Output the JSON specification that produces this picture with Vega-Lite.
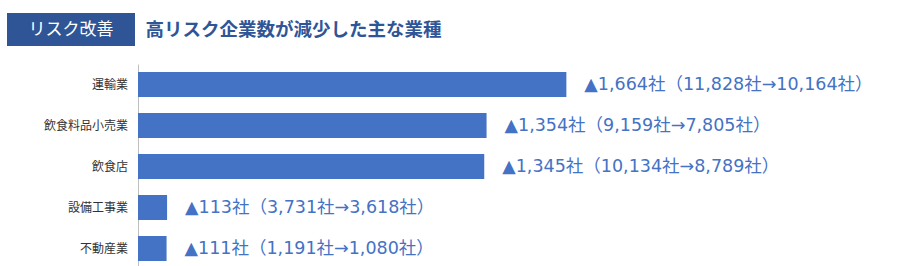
{
  "$schema": "https://vega.github.io/schema/vega-lite/v6.json",
  "padding": {"left": 7, "top": 13, "right": 0, "bottom": 0},
  "background": "white",
  "spacing": 18,
  "config": {"view": {"stroke": null}, "font": "Noto Sans CJK JP"},
  "datasets": {
    "industries": [
      {"industry": "運輸業", "decrease": 1664, "before": 11828, "after": 10164, "label": "▲1,664社（11,828社→10,164社）"},
      {"industry": "飲食料品小売業", "decrease": 1354, "before": 9159, "after": 7805, "label": "▲1,354社（9,159社→7,805社）"},
      {"industry": "飲食店", "decrease": 1345, "before": 10134, "after": 8789, "label": "▲1,345社（10,134社→8,789社）"},
      {"industry": "設備工事業", "decrease": 113, "before": 3731, "after": 3618, "label": "▲113社（3,731社→3,618社）"},
      {"industry": "不動産業", "decrease": 111, "before": 1191, "after": 1080, "label": "▲111社（1,191社→1,080社）"}
    ]
  },
  "vconcat": [
    {
      "spacing": 10,
      "hconcat": [
        {
          "width": 128,
          "height": 33,
          "view": {"fill": "#2F5597", "stroke": null},
          "data": {"values": [{"t": "リスク改善"}]},
          "mark": {"type": "text", "align": "center", "baseline": "middle", "fontSize": 17, "color": "#FFFFFF", "font": "Noto Sans CJK JP"},
          "encoding": {"text": {"field": "t"}}
        },
        {
          "width": 1,
          "height": 33,
          "data": {"values": [{"t": "高リスク企業数が減少した主な業種"}]},
          "mark": {"type": "text", "align": "left", "baseline": "middle", "fontSize": 18.5, "fontWeight": "bold", "color": "#2F5597", "font": "Noto Sans CJK JP"},
          "encoding": {"text": {"field": "t"}}
        }
      ]
    },
    {
      "spacing": 10,
      "hconcat": [
        {
          "width": 121,
          "height": 205,
          "data": {"name": "industries"},
          "mark": {"type": "text", "align": "right", "baseline": "middle", "fontSize": 12, "color": "#333333", "font": "Noto Sans CJK JP"},
          "encoding": {
            "y": {
              "field": "industry",
              "type": "nominal",
              "sort": null,
              "scale": {"paddingInner": 0.39, "paddingOuter": 0.195},
              "axis": null
            },
            "x": {"datum": 1, "type": "quantitative", "scale": {"domain": [0, 1]}, "axis": null},
            "text": {"field": "industry"}
          }
        },
        {
          "width": 762,
          "height": 205,
          "data": {"name": "industries"},
          "encoding": {
            "y": {
              "field": "industry",
              "type": "nominal",
              "sort": null,
              "scale": {"paddingInner": 0.39, "paddingOuter": 0.195},
              "axis": {
                "title": null,
                "domain": true,
                "domainColor": "#BFBFBF",
                "domainWidth": 1,
                "ticks": false,
                "labels": false
              }
            },
            "x": {
              "field": "decrease",
              "type": "quantitative",
              "scale": {"domain": [0, 2960]},
              "axis": null
            }
          },
          "layer": [
            {"mark": {"type": "bar", "color": "#4472C4"}},
            {
              "mark": {"type": "text", "align": "left", "baseline": "middle", "dx": 18, "fontSize": 17.5, "color": "#4472C4", "font": "DejaVu Sans, Noto Sans CJK JP"},
              "encoding": {"text": {"field": "label"}}
            }
          ]
        }
      ]
    }
  ]
}
